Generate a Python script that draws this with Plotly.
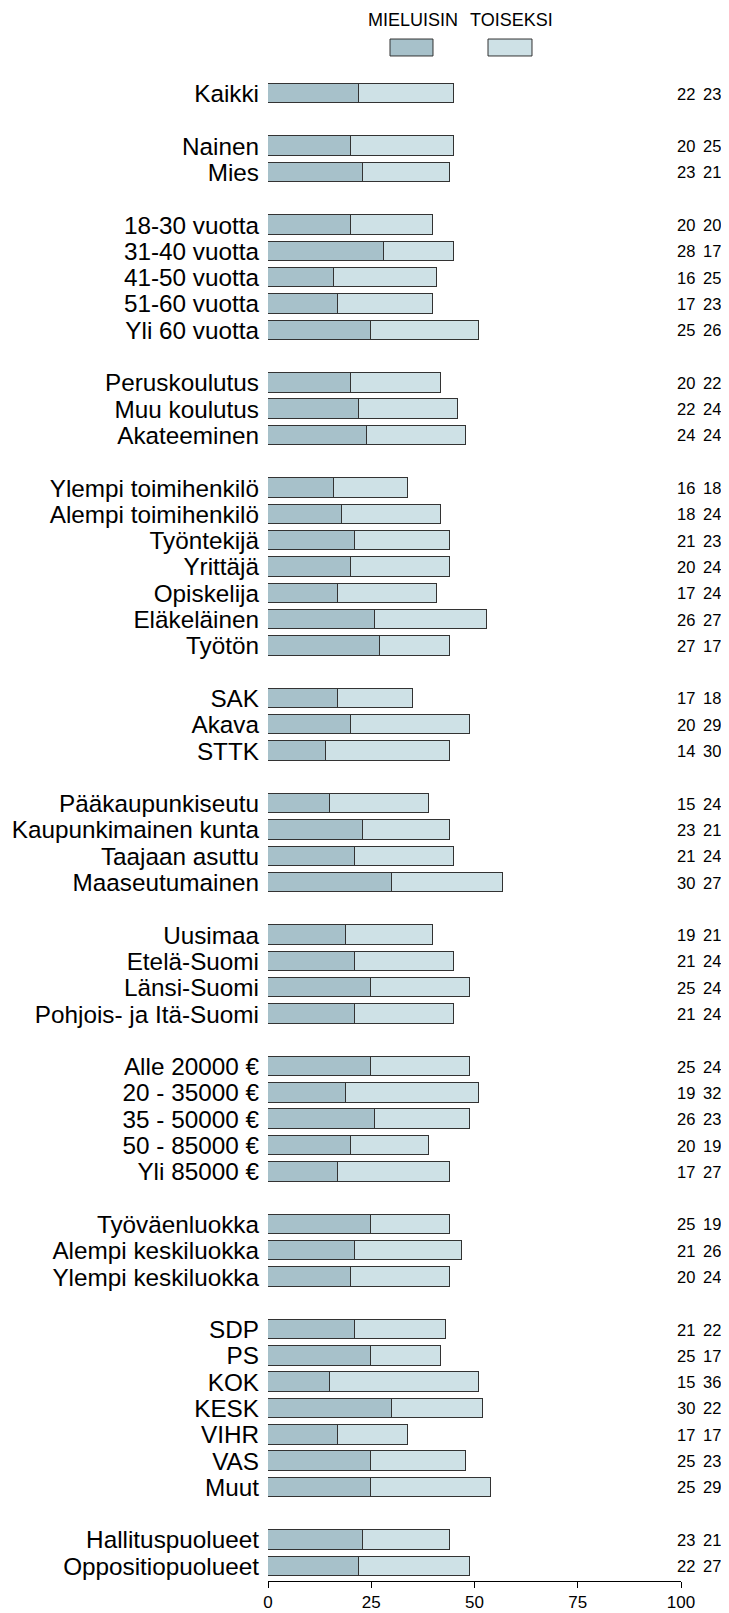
import plotly.graph_objects as go

# Category rows; "" marks an empty spacer row between groups
categories = [
    "Kaikki", "",
    "Nainen", "Mies", "",
    "18-30 vuotta", "31-40 vuotta", "41-50 vuotta", "51-60 vuotta", "Yli 60 vuotta", "",
    "Peruskoulutus", "Muu koulutus", "Akateeminen", "",
    "Ylempi toimihenkilö", "Alempi toimihenkilö", "Työntekijä", "Yrittäjä",
    "Opiskelija", "Eläkeläinen", "Työtön", "",
    "SAK", "Akava", "STTK", "",
    "Pääkaupunkiseutu", "Kaupunkimainen kunta", "Taajaan asuttu", "Maaseutumainen", "",
    "Uusimaa", "Etelä-Suomi", "Länsi-Suomi", "Pohjois- ja Itä-Suomi", "",
    "Alle 20000 €", "20 - 35000 €", "35 - 50000 €", "50 - 85000 €", "Yli 85000 €", "",
    "Työväenluokka", "Alempi keskiluokka", "Ylempi keskiluokka", "",
    "SDP", "PS", "KOK", "KESK", "VIHR", "VAS", "Muut", "",
    "Hallituspuolueet", "Oppositiopuolueet",
]

mieluisin = [22, 20, 23, 20, 28, 16, 17, 25, 20, 22, 24,
             16, 18, 21, 20, 17, 26, 27, 17, 20, 14,
             15, 23, 21, 30, 19, 21, 25, 21,
             25, 19, 26, 20, 17, 25, 21, 20,
             21, 25, 15, 30, 17, 25, 25, 23, 22]
toiseksi = [23, 25, 21, 20, 17, 25, 23, 26, 22, 24, 24,
            18, 24, 23, 24, 24, 27, 17, 18, 29, 30,
            24, 21, 24, 27, 21, 24, 24, 24,
            24, 32, 23, 19, 27, 19, 26, 24,
            22, 17, 36, 22, 17, 23, 29, 21, 27]

series_names = ["MIELUISIN", "TOISEKSI"]
x_ticks = [0, 25, 50, 75, 100]

# positions of real rows
rows = [(i, c) for i, c in enumerate(categories) if c]
ypos = [i for i, _ in rows]
labels = [c for _, c in rows]

col1 = "#a7c1ca"
col2 = "#cee1e6"
edge = "#333333"
font_main = "Liberation Sans, Arial, sans-serif"

fig = go.Figure()
fig.add_trace(go.Bar(y=ypos, x=mieluisin, orientation="h", name=series_names[0],
                     marker=dict(color=col1, line=dict(color=edge, width=1)),
                     width=0.74, hoverinfo="x"))
fig.add_trace(go.Bar(y=ypos, x=toiseksi, orientation="h", name=series_names[1],
                     marker=dict(color=col2, line=dict(color=edge, width=1)),
                     width=0.74, hoverinfo="x"))

annotations = []
for y, a, b in zip(ypos, mieluisin, toiseksi):
    for xp, v in ((1.012, a), (1.075, b)):
        annotations.append(dict(x=xp, y=y, xref="paper", yref="y", text=str(v), showarrow=False,
                                xanchor="center", yanchor="middle",
                                font=dict(family=font_main, size=16.5, color="black")))

# legend: text above boxes
leg_boxes = [(0.2954, 0.3995), (0.5327, 0.6392)]
leg_cols = [col1, col2]
shapes = []
for (x0, x1), c, name in zip(leg_boxes, leg_cols, series_names):
    shapes.append(dict(type="rect", xref="paper", yref="paper", x0=x0, x1=x1,
                       y0=1.0160, y1=1.0273, fillcolor=c, line=dict(color=edge, width=1)))
    annotations.append(dict(x=(x0 + x1) / 2 + 0.003, y=1.040, xref="paper", yref="paper",
                            text=name, showarrow=False, xanchor="center", yanchor="middle",
                            font=dict(family=font_main, size=18, color="black")))

# page body adds an 8px margin; the figure is sized to compensate
fig.update_layout(
    width=721, height=1605,
    margin=dict(l=260, r=48, t=72, b=32, autoexpand=False),
    barmode="stack",
    showlegend=False,
    plot_bgcolor="white", paper_bgcolor="white",
    annotations=annotations, shapes=shapes,
    bargap=0,
)
fig.update_xaxes(range=[0, 100], tickvals=x_ticks, ticktext=[str(v) for v in x_ticks],
                 showgrid=False, zeroline=False, showline=True, linecolor="black", linewidth=1,
                 ticks="outside", ticklen=6, tickcolor="black", automargin=False,
                 tickfont=dict(family=font_main, size=17, color="black"))
fig.update_yaxes(range=[56.56, -0.517], tickvals=ypos, ticktext=labels,
                 showgrid=False, zeroline=False, showline=False, ticks="",
                 ticklabelstandoff=8, automargin=False,
                 tickfont=dict(family=font_main, size=24.3, color="black"))

fig.write_html("out.html")
